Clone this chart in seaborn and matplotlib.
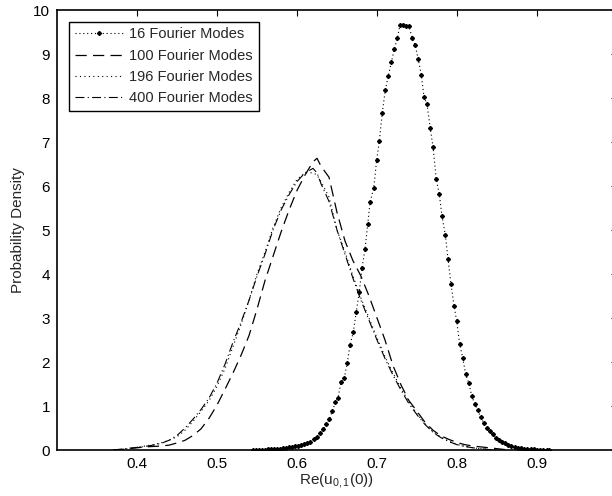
import numpy as np
import matplotlib
matplotlib.use("Agg")
import matplotlib.pyplot as plt
import seaborn as sns

# 16 Fourier modes
x16 = [0.545, 0.549, 0.553, 0.556, 0.560, 0.564, 0.568, 0.571, 0.575, 0.579,
       0.583, 0.586, 0.590, 0.594, 0.598, 0.601, 0.605, 0.609, 0.612, 0.616,
       0.6216, 0.6254, 0.6291, 0.6329, 0.6366, 0.6404, 0.6441, 0.6479, 0.6513, 0.655,
       0.6591, 0.6629, 0.6663, 0.6704, 0.6741, 0.6779, 0.6813, 0.685, 0.6884, 0.6913,
       0.6959, 0.6996, 0.7029, 0.7066, 0.7104, 0.7141, 0.7179, 0.7216, 0.7254, 0.7288,
       0.7325, 0.7362, 0.7400, 0.7441, 0.7475, 0.7516, 0.7554, 0.7588, 0.7625, 0.7666,
       0.770, 0.7741, 0.7779, 0.7813, 0.7854, 0.7888, 0.7925, 0.7963, 0.7996, 0.8034,
       0.8071, 0.8109, 0.8146, 0.8184, 0.8221, 0.8259, 0.8296, 0.8334, 0.8371, 0.8409,
       0.8446, 0.8484, 0.8521, 0.8559, 0.860, 0.8641, 0.868, 0.872, 0.876, 0.880,
       0.884, 0.888, 0.892, 0.896, 0.900, 0.904, 0.908, 0.912, 0.915]
y16 = [0.005, 0.005, 0.01, 0.01, 0.01, 0.015, 0.02, 0.02, 0.03, 0.03,
       0.04, 0.05, 0.06, 0.07, 0.09, 0.10, 0.12, 0.14, 0.15, 0.19,
       0.25, 0.30, 0.38, 0.47, 0.58, 0.70, 0.88, 1.08, 1.19, 1.54,
       1.64, 1.98, 2.39, 2.68, 3.14, 3.60, 4.14, 4.56, 5.13, 5.63,
       5.95, 6.59, 7.02, 7.67, 8.18, 8.50, 8.81, 9.11, 9.36, 9.66,
       9.65, 9.63, 9.63, 9.36, 9.21, 8.88, 8.52, 8.02, 7.86, 7.31,
       6.89, 6.15, 5.81, 5.31, 4.88, 4.34, 3.77, 3.28, 2.93, 2.40,
       2.10, 1.72, 1.53, 1.23, 1.05, 0.91, 0.74, 0.62, 0.49, 0.43,
       0.36, 0.28, 0.23, 0.18, 0.15, 0.11, 0.09, 0.07, 0.05, 0.04,
       0.03, 0.03, 0.02, 0.02, 0.01, 0.01, 0.005, 0.005, 0.0]

# 100 / 196 / 400 Fourier modes
xb = [0.37, 0.38, 0.39, 0.40, 0.41, 0.42, 0.43, 0.44, 0.45, 0.46,
      0.47, 0.48, 0.49, 0.50, 0.51, 0.52, 0.53, 0.54, 0.55, 0.56,
      0.57, 0.58, 0.59, 0.60, 0.61, 0.62, 0.625, 0.63, 0.64, 0.65,
      0.66, 0.67, 0.68, 0.69, 0.70, 0.71, 0.72, 0.73, 0.74, 0.75,
      0.76, 0.77, 0.78, 0.79, 0.80, 0.81, 0.82, 0.83, 0.84, 0.85,
      0.86]
y100 = [0.0, 0.01, 0.03, 0.05, 0.07, 0.08, 0.09, 0.11, 0.16, 0.22,
        0.33, 0.48, 0.72, 1.02, 1.38, 1.75, 2.15, 2.60, 3.20, 3.85,
        4.40, 4.95, 5.45, 5.90, 6.25, 6.55, 6.63, 6.45, 6.20, 5.40,
        4.75, 4.30, 3.95, 3.50, 3.00, 2.50, 1.92, 1.48, 1.12, 0.88,
        0.63, 0.45, 0.32, 0.24, 0.17, 0.12, 0.09, 0.07, 0.05, 0.03,
        0.01]
y196 = [0.0, 0.01, 0.03, 0.06, 0.09, 0.12, 0.16, 0.22, 0.30, 0.45,
        0.65, 0.88, 1.12, 1.45, 1.85, 2.35, 2.85, 3.40, 4.00, 4.50,
        5.05, 5.50, 5.85, 6.15, 6.30, 6.30, 6.25, 6.10, 5.75, 5.00,
        4.50, 3.95, 3.45, 3.00, 2.55, 2.12, 1.75, 1.40, 1.10, 0.82,
        0.60, 0.42, 0.29, 0.20, 0.13, 0.08, 0.05, 0.03, 0.01, 0.0,
        0.0]
y400 = [0.0, 0.02, 0.04, 0.06, 0.08, 0.11, 0.15, 0.22, 0.33, 0.50,
        0.70, 0.92, 1.18, 1.52, 1.95, 2.45, 2.90, 3.40, 3.95, 4.45,
        5.00, 5.45, 5.80, 6.10, 6.30, 6.40, 6.30, 6.05, 5.65, 5.00,
        4.45, 3.90, 3.40, 2.95, 2.50, 2.08, 1.70, 1.36, 1.05, 0.80,
        0.58, 0.40, 0.28, 0.19, 0.12, 0.08, 0.05, 0.03, 0.01, 0.0,
        0.0]

xticks = [0.4, 0.5, 0.6, 0.7, 0.8, 0.9, 1.0]
xtick_labels = ['0.4', '0.5', '0.6', '0.7', '0.8', '0.9', '1']
yticks = list(range(0, 11))

sns.set_style('white')
plt.rcParams['font.family'] = ['Liberation Sans', 'DejaVu Sans']
plt.rcParams['mathtext.fontset'] = 'custom'
plt.rcParams['mathtext.rm'] = 'Liberation Sans'
plt.rcParams['mathtext.it'] = 'Liberation Sans'

fig = plt.figure(figsize=(6.12, 4.96), dpi=100)
ax = fig.add_axes([57 / 612, 46 / 496, 560 / 612, 440 / 496])

sns.lineplot(x=x16, y=y16, ax=ax, color='k', lw=0.8, linestyle=(0, (1, 2.5)),
             marker=(8, 2, 0), markersize=3, markeredgewidth=0.9,
             markeredgecolor='k', markerfacecolor='k',
             sort=False, estimator=None, label='16 Fourier Modes')
sns.lineplot(x=xb, y=y100, ax=ax, color='k', lw=0.9, linestyle=(0, (9, 5)),
             sort=False, estimator=None, label='100 Fourier Modes')
sns.lineplot(x=xb, y=y196, ax=ax, color='k', lw=0.8, linestyle=(0, (1, 3)),
             sort=False, estimator=None, label='196 Fourier Modes')
sns.lineplot(x=xb, y=y400, ax=ax, color='k', lw=0.8, linestyle=(0, (8, 3, 1, 3)),
             sort=False, estimator=None, label='400 Fourier Modes')

ax.set_xlim(0.3, 1.0)
ax.set_ylim(0, 10)
ax.set_xticks(xticks)
ax.set_xticklabels(xtick_labels)
ax.set_yticks(yticks)
ax.tick_params(direction='in', length=4, width=0.8, top=True, right=True,
               labelsize=11, pad=5, colors='k')
for s in ax.spines.values():
    s.set_color('k')
    s.set_linewidth(1.2)

ax.set_xlabel(r'Re(u$_{0,1}$(0))', fontsize=11, labelpad=0)
ax.set_ylabel('Probability Density', fontsize=11, labelpad=6)

leg = ax.legend(loc='upper left', fontsize=10.5, frameon=True, fancybox=False,
                edgecolor='k', framealpha=1, handlelength=3.3, handletextpad=0.45,
                borderaxespad=0.8, labelspacing=0.5, borderpad=0.4)
leg.get_frame().set_linewidth(1.0)

fig.savefig('out.png', dpi=100)
